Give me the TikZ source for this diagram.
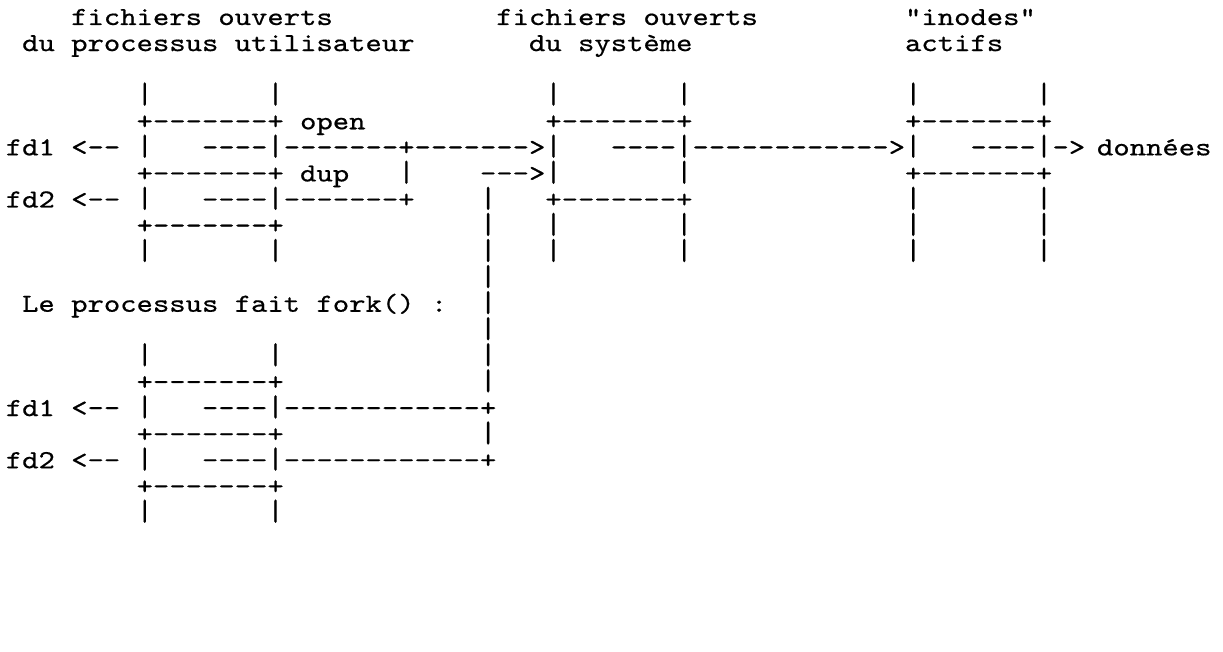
\documentclass[tikz,border=0pt]{standalone}
\usepackage{graphicx}
\usepackage{fontspec}
% typewriter face, widened to a 16.35pt character pitch, TeX ligatures off so "--" stays "--"
\newfontfamily\typew{lmmono10-regular.otf}[Ligatures={TeXOff,CommonOff},FakeStretch=1.198,FakeBold=0.6]
% a slightly taller vertical bar for the table columns
\newcommand\vb{\scalebox{1}[1.15]{|}}
% text placed on the character grid: column c, text row r
\newcommand\seg[3]{\node[tt] (r#2c#1) at ({5.8+16.35*#1},{-25-26.07*#2}) {#3};}
\begin{document}
\begin{tikzpicture}[x=1pt,y=1pt,
  tt/.style={anchor=base west,inner sep=0pt,outer sep=0pt,
    font=\typew\fontsize{26}{26}\selectfont}]
\fill[white] (0,0) rectangle (1223,-652);
\path[use as bounding box] (0,0) rectangle (1223,-652);

% column headings
\seg{4}{0}{fichiers} \seg{13}{0}{ouverts}
\seg{30}{0}{fichiers} \seg{39}{0}{ouverts}
\seg{55}{0}{"inodes"}
\seg{1}{1}{du} \seg{4}{1}{processus} \seg{14}{1}{utilisateur}
\seg{32}{1}{du} \seg{35}{1}{système}
\seg{55}{1}{actifs}

% tables, upper part
\foreach \c in {8,16,33,41,55,63} {\seg{\c}{3}{\vb}}

\seg{8}{4}{+-------+} \seg{18}{4}{open}
\seg{33}{4}{+-------+} \seg{55}{4}{+-------+}

\seg{0}{5}{fd1} \seg{4}{5}{<--} \seg{8}{5}{\vb}
\seg{12}{5}{----\vb-------+------->\vb}
\seg{37}{5}{----\vb------------>\vb}
\seg{59}{5}{----\vb}
\node[tt] (fleche) at (1052.5,{-25-26.07*5}) {->};
\node[tt] (donnees) at (1097,{-25-26.07*5}) {données};

\seg{8}{6}{+-------+} \seg{18}{6}{dup} \seg{24}{6}{\vb}
\seg{29}{6}{--->\vb} \seg{41}{6}{\vb} \seg{55}{6}{+-------+}

\seg{0}{7}{fd2} \seg{4}{7}{<--} \seg{8}{7}{\vb}
\seg{12}{7}{----\vb-------+} \seg{29}{7}{\vb}
\seg{33}{7}{+-------+} \seg{55}{7}{\vb} \seg{63}{7}{\vb}

\seg{8}{8}{+-------+}
\foreach \c in {29,33,41,55,63} {\seg{\c}{8}{\vb}}
\foreach \c in {8,16,29,33,41,55,63} {\seg{\c}{9}{\vb}}

% fork
\seg{29}{10}{\vb}
\seg{1}{11}{Le} \seg{4}{11}{processus} \seg{14}{11}{fait}
\seg{19}{11}{fork()} \seg{26}{11}{:} \seg{29}{11}{\vb}
\seg{29}{12}{\vb}

% table of the child process
\foreach \c in {8,16,29} {\seg{\c}{13}{\vb}}
\seg{8}{14}{+-------+} \seg{29}{14}{\vb}
\seg{0}{15}{fd1} \seg{4}{15}{<--} \seg{8}{15}{\vb}
\seg{12}{15}{----\vb------------+}
\seg{8}{16}{+-------+} \seg{29}{16}{\vb}
\seg{0}{17}{fd2} \seg{4}{17}{<--} \seg{8}{17}{\vb}
\seg{12}{17}{----\vb------------+}
\seg{8}{18}{+-------+}
\seg{8}{19}{\vb} \seg{16}{19}{\vb}
\end{tikzpicture}
\end{document}
